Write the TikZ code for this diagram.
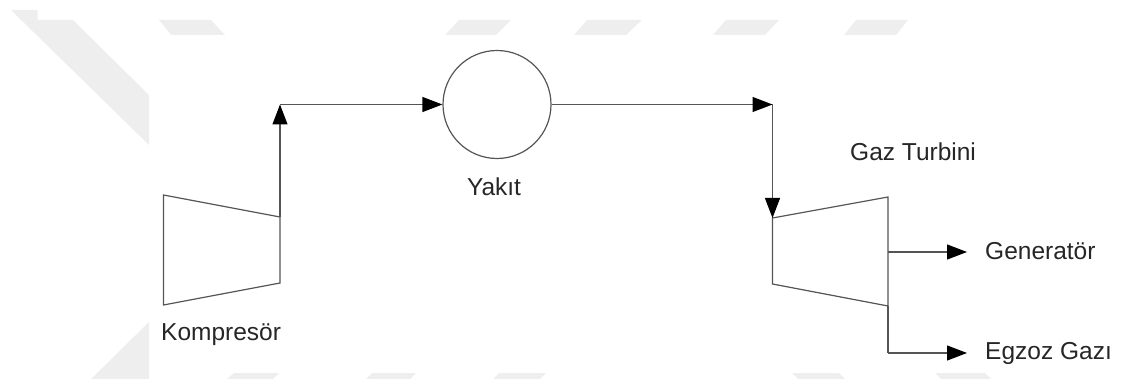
\documentclass[tikz,border=0pt]{standalone}
\usepackage{fontspec}
\setmainfont{Liberation Sans}
\usetikzlibrary{arrows.meta}
\definecolor{linegray}{RGB}{85, 85, 85}
\definecolor{markgray}{RGB}{238, 238, 238}
\tikzset{
    flow/.style={draw=linegray, line width=1.2pt, -{Triangle[length=20pt,width=15pt,color=black]}},
    part/.style={draw=linegray, line width=1.2pt},
    lbl/.style={text=black!85, inner sep=0pt, font=\fontsize{24.5}{27}\selectfont}
}
\begin{document}
\begin{tikzpicture}[x=1pt, y=-1pt]
            \useasboundingbox (0,0) rectangle (1121,379);
            % Background stripes
            \fill[markgray] (11,10) -- (37.5,10) -- (37.5,20) -- (73,20) -- (149,95) -- (149,145) -- cycle;
            \fill[markgray] (91,379) -- (149,322) -- (149,379) -- cycle;
            \fill[markgray] (159,20) -- (211,20) -- (225,35) -- (171,35) -- cycle;
            \fill[markgray] (459,20) -- (511,20) -- (496,35) -- (445,35) -- cycle;
            \fill[markgray] (587,20) -- (642,20) -- (626,35) -- (574,35) -- cycle;
            \fill[markgray] (726,20) -- (779,20) -- (765,35) -- (713,35) -- cycle;
            \fill[markgray] (856,20) -- (908,20) -- (896,35) -- (844,35) -- cycle;
            \fill[markgray] (234,373) -- (279,373) -- (273,379) -- (227,379) -- cycle;
            \fill[markgray] (372,373) -- (416,373) -- (410,379) -- (366,379) -- cycle;
            \fill[markgray] (499,373) -- (546,373) -- (540,379) -- (493,379) -- cycle;
            \fill[markgray] (792,373) -- (839,373) -- (845,379) -- (798,379) -- cycle;
            \fill[markgray] (935,373) -- (985,373) -- (991,379) -- (941,379) -- cycle;

            % Parts
            \node[part, circle, minimum size=108pt, inner sep=0pt] (burner) at (497,104.5) {};
            \draw[part] (163.5,195) coordinate (compTL) -- (280,217) coordinate (compTR)
                -- (280,283) coordinate (compBR) -- (163.5,305) coordinate (compBL) -- cycle;
            \draw[part] (772.5,218) coordinate (turbTL) -- (888,197) coordinate (turbTR)
                -- (888,306) coordinate (turbBR) -- (772.5,284) coordinate (turbBL) -- cycle;

            % Flow lines
            \coordinate (elbowA) at (280,104.5);
            \coordinate (elbowB) at (772.5,104.5);
            \coordinate (genTap) at (888,252);
            \coordinate (gasTap) at (888,353);
            \coordinate (genEnd) at (967,252);
            \coordinate (gasEnd) at (967,353);
            \draw[flow] (compTR) -- (elbowA);
            \draw[flow] (elbowA) -- (burner.west);
            \draw[flow] (burner.east) -- (elbowB);
            \draw[flow] (elbowB) -- (turbTL);
            \draw[flow] (genTap) -- (genEnd);
            \draw[part] (turbBR) -- (gasTap);
            \draw[flow] (gasTap) -- (gasEnd);

            % Labels
            \node[lbl, anchor=west] (compLabel) at (161,335) {Kompresör};
            \node[lbl] (fuelLabel) at (494,187) {Yakıt};
            \node[lbl, anchor=west] (turbLabel) at (850,152) {Gaz Turbini};
            \node[lbl, anchor=west] (genLabel) at (985,251) {Generatör};
            \node[lbl, anchor=west] (gasLabel) at (985,353) {Egzoz Gazı};
        \end{tikzpicture}
\end{document}
